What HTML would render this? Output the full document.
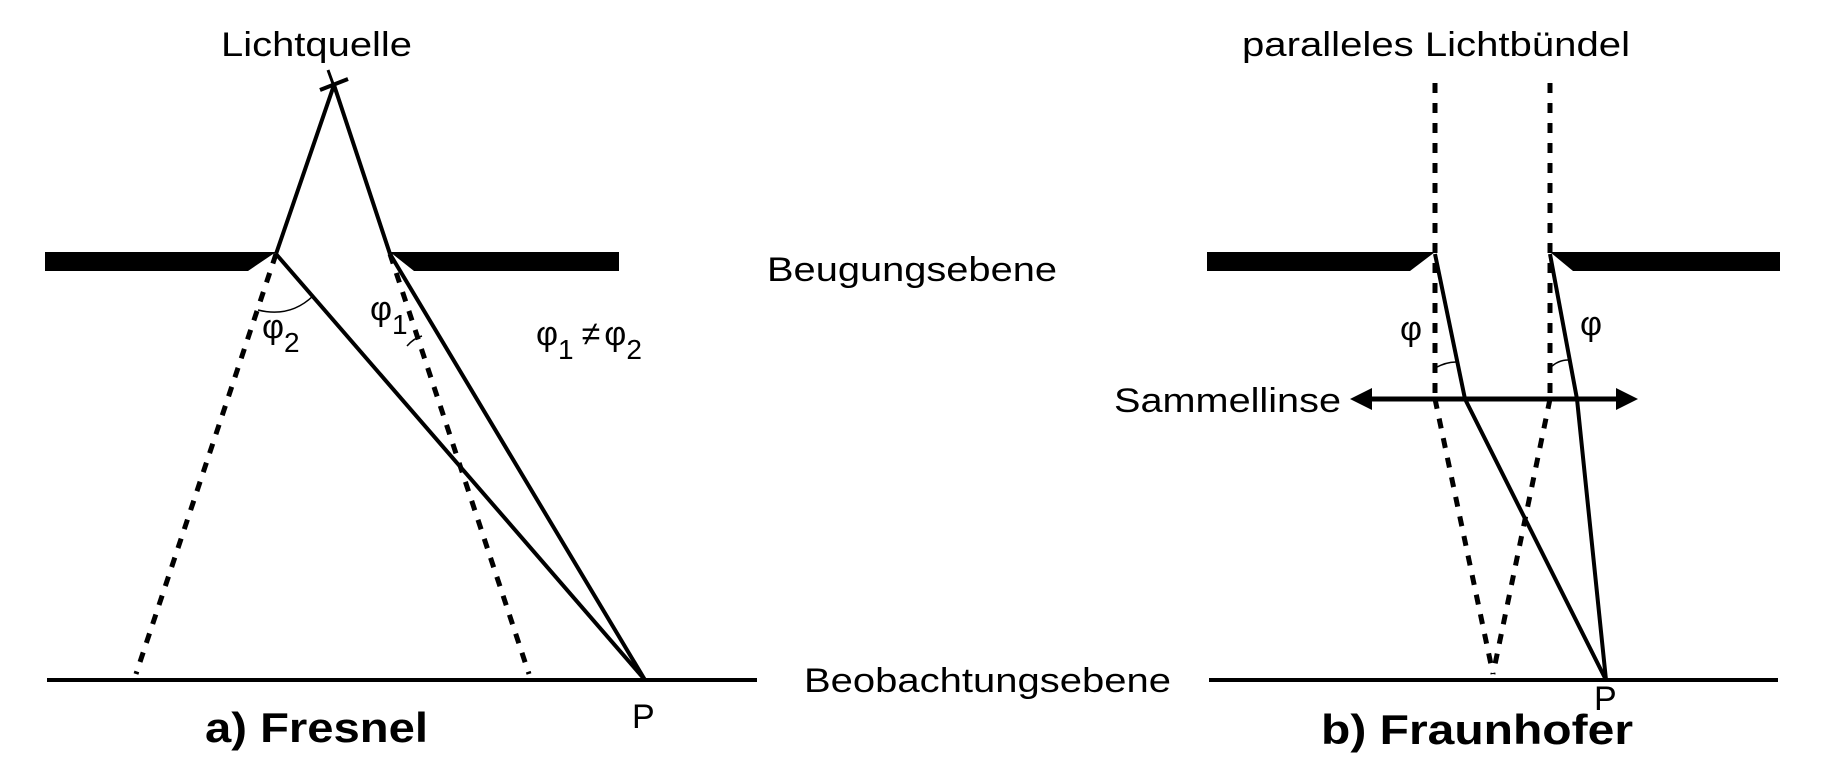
<!DOCTYPE html>
<html><head><meta charset="utf-8"><style>
html,body{margin:0;padding:0;background:#fff;}
svg{display:block;font-family:"Liberation Sans",sans-serif;}
</style></head><body>
<svg width="1847" height="765" viewBox="0 0 1847 765" xmlns="http://www.w3.org/2000/svg">
<rect width="1847" height="765" fill="#fff"/>
<g stroke="#000" fill="none">
  <polygon points="45,252 276,252 248,271 45,271" fill="#000" stroke="none"/>
  <polygon points="390,252 619,252 619,271 414,271" fill="#000" stroke="none"/>
  <line x1="47" y1="680" x2="757" y2="680" stroke-width="4"/>
  <line x1="334" y1="85" x2="276" y2="254" stroke-width="4"/>
  <line x1="334" y1="85" x2="390" y2="254" stroke-width="4"/>
  <line x1="320" y1="90" x2="348" y2="79" stroke-width="4"/>
  <line x1="328" y1="70" x2="336" y2="92" stroke-width="3"/>
  <line x1="276" y1="254" x2="645" y2="680" stroke-width="4"/>
  <line x1="390" y1="254" x2="645" y2="680" stroke-width="4"/>
  <line x1="276" y1="254" x2="136" y2="674" stroke-width="5" stroke-dasharray="10,10"/>
  <line x1="390" y1="254" x2="529" y2="674" stroke-width="5" stroke-dasharray="10,10"/>
  <path d="M258,310 Q290,318 313,296" stroke-width="1.5"/>
  <path d="M407,346 Q414,338 422,336" stroke-width="1.5"/>
</g>
<g stroke="#000" fill="none" transform="translate(-6,0)">
  <polygon points="1213,252 1441,252 1416,271 1213,271" fill="#000" stroke="none"/>
  <polygon points="1556,252 1786,252 1786,271 1579,271" fill="#000" stroke="none"/>
  <line x1="1215" y1="680" x2="1784" y2="680" stroke-width="4"/>
  <line x1="1441" y1="83" x2="1441" y2="399" stroke-width="5" stroke-dasharray="10,10"/>
  <line x1="1556" y1="83" x2="1556" y2="399" stroke-width="5" stroke-dasharray="10,10"/>
  <line x1="1441" y1="399" x2="1499" y2="674" stroke-width="5" stroke-dasharray="10,10"/>
  <line x1="1556" y1="399" x2="1499" y2="674" stroke-width="5" stroke-dasharray="10,10"/>
  <polyline points="1441,254 1471,399 1612,680" stroke-width="4"/>
  <polyline points="1556,254 1583,399 1612,680" stroke-width="4"/>
  <line x1="1370" y1="399" x2="1630" y2="399" stroke-width="5"/>
  <polygon points="1356,399 1378,388 1378,410" fill="#000" stroke="none"/>
  <polygon points="1644,399 1622,388 1622,410" fill="#000" stroke="none"/>
  <path d="M1441,368 Q1452,362 1462,362" stroke-width="1.5"/>
  <path d="M1556,368 Q1564,360 1574,360" stroke-width="1.5"/>
</g>
<g fill="#000" font-size="34">
  <text x="221" y="56" textLength="191" lengthAdjust="spacingAndGlyphs">Lichtquelle</text>
  <text x="767" y="281" textLength="290" lengthAdjust="spacingAndGlyphs">Beugungsebene</text>
  <text x="804" y="692" textLength="367" lengthAdjust="spacingAndGlyphs">Beobachtungsebene</text>
  <text x="1242" y="56" textLength="388" lengthAdjust="spacingAndGlyphs">paralleles Lichtbündel</text>
  <text x="1114" y="412" textLength="227" lengthAdjust="spacingAndGlyphs">Sammellinse</text>
  <text x="632" y="728">P</text>
  <text x="1594" y="710">P</text>
  <text x="262" y="338">φ<tspan font-size="28" dy="14">2</tspan></text>
  <text x="370" y="320">φ<tspan font-size="28" dy="14">1</tspan></text>
  <text x="536" y="345">φ<tspan font-size="28" dy="14">1</tspan><tspan dy="-14" dx="8">≠</tspan><tspan dx="4">φ</tspan><tspan font-size="28" dy="14">2</tspan></text>
  <text x="1400" y="340">φ</text>
  <text x="1580" y="335">φ</text>
  <text x="205" y="742" font-size="42" font-weight="bold" textLength="223" lengthAdjust="spacingAndGlyphs">a) Fresnel</text>
  <text x="1321" y="744" font-size="42" font-weight="bold" textLength="312" lengthAdjust="spacingAndGlyphs">b) Fraunhofer</text>
</g>
</svg>
</body></html>
